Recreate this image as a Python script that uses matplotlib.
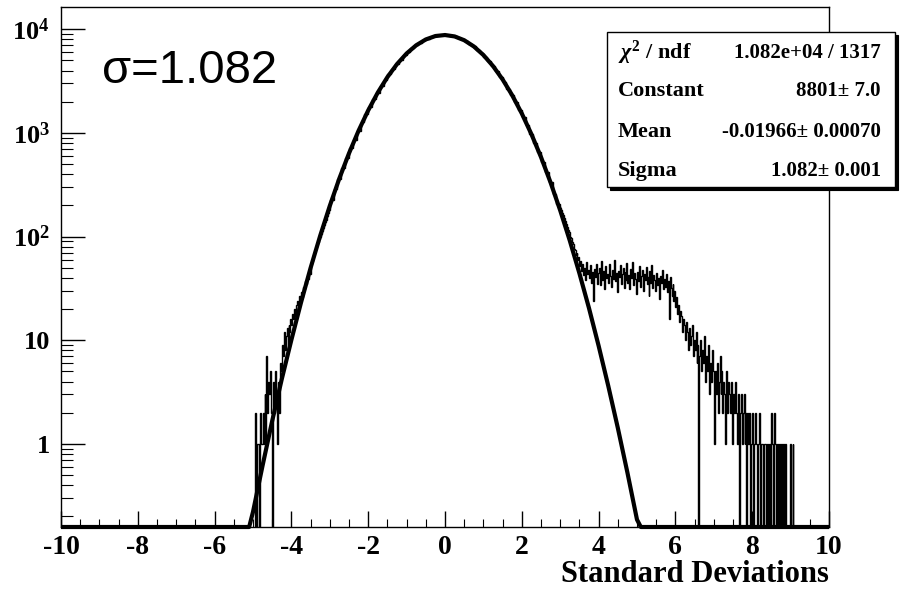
"""
Gaussian fit of a residual distribution (ROOT style, log scale)
"""

import numpy as np
import matplotlib.pyplot as plt
from matplotlib.patches import Rectangle
from matplotlib.ticker import MultipleLocator, LogLocator, NullFormatter

# ---- data ----
# left tail, 0.025 wide bins starting at -5.0
left_start = -5.0
left_width = 0.025
left_counts = [0, 0, 2, 0, 1, 1, 0, 2, 1, 1,
               2, 1, 3, 1, 7, 2, 4, 3, 5, 2,
               0, 4, 2, 5, 3, 1, 4, 2, 6, 5,
               9, 7, 12, 8, 11, 13, 9, 14, 12, 16,
               14, 18, 16, 20, 17, 22, 24, 20, 27, 25,
               29, 26, 33, 31, 37, 35, 41, 39, 46, 44,
               55, 58, 62, 66, 70, 74, 79, 84, 89, 95,
               100, 106, 113, 120, 128, 137, 146, 157, 168, 180]

# core, 0.1 wide bins starting at -3.0
core_start = -3.0
core_width = 0.1
core_counts = [225, 290, 362, 461, 570, 709, 864, 1055, 1265, 1518,
               1790, 2110, 2448, 2835, 3235, 3680, 4130, 4618, 5098, 5600,
               6080, 6562, 7005, 7433, 7802, 8138, 8396, 8610, 8733, 8802,
               8780, 8697, 8527, 8305, 8004, 7666, 7262, 6836, 6366, 5893,
               5394, 4909, 4416, 3952, 3494, 3076, 2671, 2313, 1973, 1682,
               1409, 1181, 971, 802, 648, 527, 417, 334, 259, 206]

# right tail, 0.025 wide bins starting at 3.0
right_start = 3.0
right_width = 0.025
right_counts = [190, 180, 168, 160, 150, 140, 132, 124, 116, 110,
                100, 96, 88, 84, 76, 74, 66, 70, 60, 64,
                52, 58, 47, 55, 43, 50, 38, 57, 44, 48,
                40, 53, 36, 46, 24, 49, 41, 55, 35, 45,
                50, 34, 43, 58, 38, 47, 31, 52, 40, 44,
                36, 55, 42, 33, 48, 39, 60, 37, 45, 29,
                47, 41, 53, 35, 44, 50, 32, 46, 38, 56,
                36, 43, 31, 49, 40, 57, 34, 45, 39, 28,
                46, 37, 52, 33, 42, 48, 30, 44, 38, 51,
                35, 41, 27, 47, 36, 53, 32, 43, 38, 30,
                45, 34, 40, 25, 42, 36, 48, 31, 39, 33,
                44, 29, 37, 16, 41, 32, 27, 35, 24, 30,
                21, 26, 18, 22, 15, 19, 17, 12, 16, 14,
                10, 15, 12, 8, 13, 9, 11, 14, 7, 10,
                8, 12, 6, 9, 0, 7, 10, 5, 8, 6,
                11, 4, 7, 5, 9, 3, 6, 4, 8, 5,
                1, 5, 3, 6, 2, 4, 7, 3, 5, 2,
                4, 3, 1, 5, 2, 4, 3, 2, 4, 1,
                3, 2, 4, 2, 1, 3, 0, 2, 3, 1,
                2, 3, 1, 2, 0, 2, 1, 2, 0, 1,
                2, 0, 1, 2, 1, 0, 1, 2, 0, 1,
                1, 0, 1, 1, 0, 1, 0, 1, 1, 0,
                2, 1, 0, 2, 1, 0, 1, 0, 1, 0,
                1, 0, 1, 0, 1, 0, 0, 0, 0, 1,
                0, 0, 1, 0, 0, 0, 0, 0]

# fitted gaussian, read at the listed x positions
fit_x = [-10.0, -5.1] + list(np.arange(-5.0, 5.01, 0.25)) + [5.1, 10.0]
fit_y = [0.0, 0.144,
         0.221, 0.62, 1.67, 4.23, 10.1, 23.1, 49.9, 102, 198, 365,
         636, 1052, 1650, 2452, 3454, 4613, 5840, 7009, 7976, 8605,
         8800, 8531, 7841, 6832, 5644, 4420, 3281, 2309, 1540, 974,
         585, 332, 179, 91.4, 44.3, 20.4, 8.86, 3.65, 1.43, 0.53,
         0.186,
         0.121, 0.0]

stat_labels = [r"$\chi^{2}$ / ndf", "Constant", "Mean", "Sigma"]
stat_values = ["1.082e+04 / 1317", "8801\u00b1 7.0",
               "-0.01966\u00b1 0.00070", "1.082\u00b1 0.001"]
sigma_text = "\u03c3=1.082"

x_ticks = [-10, -8, -6, -4, -2, 0, 2, 4, 6, 8, 10]
y_ticks = [1, 10, 100, 1000, 10000]
y_tick_labels = ["1", "10", r"$10^{2}$", r"$10^{3}$", r"$10^{4}$"]

plt.rcParams["font.family"] = "Liberation Serif"
plt.rcParams["font.weight"] = "bold"
plt.rcParams["mathtext.fontset"] = "custom"
plt.rcParams["mathtext.rm"] = "Liberation Serif:bold"
plt.rcParams["mathtext.it"] = "Liberation Serif:italic:bold"
plt.rcParams["mathtext.bf"] = "Liberation Serif:bold"
plt.rcParams["axes.unicode_minus"] = False

W, H = 903, 589
fig = plt.figure(figsize=(W / 100, H / 100), dpi=100)
ax = fig.add_axes([61 / W, 1 - 527 / H, (829 - 61) / W, (527 - 7) / H])

ymin, ymax = 0.158, 16400

# histogram as one step line
left_edges = left_start + left_width * np.arange(len(left_counts) + 1)
core_edges = core_start + core_width * np.arange(len(core_counts) + 1)
right_edges = right_start + right_width * np.arange(len(right_counts) + 1)
edges = np.concatenate([left_edges, core_edges[1:], right_edges[1:]])
counts = np.array(left_counts + core_counts + right_counts, dtype=float)
counts = np.where(counts > 0, counts, 1e-3)
ax.stairs(counts, edges, baseline=None, color="black", lw=1.0)

# fit curve, clipped to the frame bottom the way ROOT draws it
fit_draw = np.clip(np.array(fit_y), ymin, None)
ax.plot(fit_x, fit_draw, color="black", lw=3.0, clip_on=False,
        solid_capstyle="butt", zorder=3)

ax.set_yscale("log")
ax.set_xlim(-10, 10)
ax.set_ylim(ymin, ymax)

ax.set_xticks(x_ticks, [str(t) for t in x_ticks])
ax.xaxis.set_minor_locator(MultipleLocator(0.5))
ax.set_yticks(y_ticks, y_tick_labels)
ax.yaxis.set_minor_locator(LogLocator(base=10, subs=range(2, 10)))
ax.yaxis.set_minor_formatter(NullFormatter())

ax.tick_params(axis="y", which="major", direction="in", length=17, width=1,
               pad=8, labelsize=19, right=False)
ax.tick_params(axis="y", which="minor", direction="in", length=8.5,
               width=0.8, right=False)
ax.tick_params(axis="x", which="major", direction="in", length=11.5,
               width=1, pad=5.5, labelsize=20, top=False)
ax.tick_params(axis="x", which="minor", direction="in", length=5.8,
               width=0.8, top=False)
for s in ax.spines.values():
    s.set_linewidth(1.0)

fig.text(829 / W, 1 - 582.5 / H, "Standard Deviations", ha="right",
         va="baseline", fontsize=22)

fig.text(102 / W, 1 - 83 / H, sigma_text, family="Liberation Sans",
         weight="normal", fontsize=34, va="baseline")

# stats box with shadow
bx0, bx1 = 607 / W, 895 / W
by0, by1 = 1 - 187 / H, 1 - 32 / H
fig.add_artist(Rectangle((bx0 + 3 / W, by0 - 3 / H), bx1 - bx0, by1 - by0,
                         transform=fig.transFigure, facecolor="black",
                         edgecolor="black", lw=0.8, zorder=5))
fig.add_artist(Rectangle((bx0, by0), bx1 - bx0, by1 - by0,
                         transform=fig.transFigure, facecolor="white",
                         edgecolor="black", lw=1.0, zorder=6))
row_y = [53, 91, 132, 171]
for lab, val, py in zip(stat_labels, stat_values, row_y):
    fig.text(618 / W, 1 - py / H, lab, ha="left", va="center",
             fontsize=16, zorder=7)
    fig.text(881 / W, 1 - py / H, val, ha="right", va="center",
             fontsize=15, zorder=7)

fig.savefig("out.png", dpi=100)
